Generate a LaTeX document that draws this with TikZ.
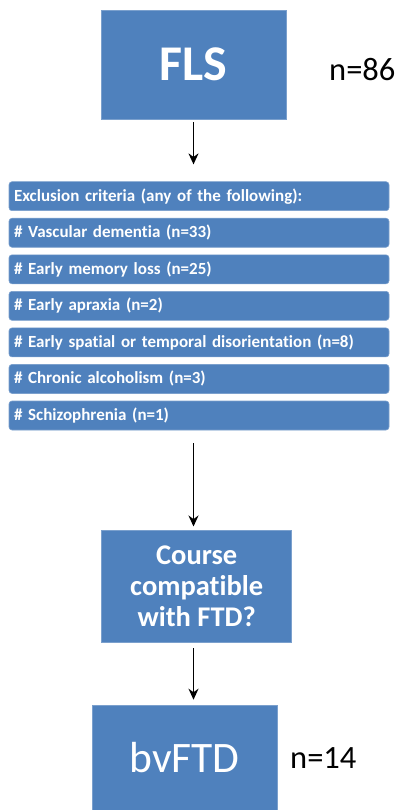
\documentclass[tikz,border=0pt]{standalone}
\usepackage{fontspec}
\setmainfont{Carlito}[Ligatures=NoCommon]
\usetikzlibrary{arrows.meta}
\definecolor{boxblue}{HTML}{4F81BD}
\begin{document}
\begin{tikzpicture}[x=1pt,y=-1pt]
        \tikzstyle{bigbox}=[rectangle,fill=boxblue,draw=boxblue!75!white,line width=0.6pt,text=white,inner sep=0pt]
        \tikzstyle{crit}=[rectangle,rounded corners=3pt,fill=boxblue,draw=boxblue!75!white,line width=0.6pt,text=white,font=\bfseries\fontsize{17}{20}\selectfont,minimum width=380pt,minimum height=29pt,text width=370pt,align=left,inner xsep=5pt,inner ysep=0pt]
        \tikzstyle{ncount}=[inner sep=0pt,font=\fontsize{32.5}{38}\selectfont]
        \tikzstyle{link}=[draw,line width=1.6pt,-{Stealth[length=11pt,width=10pt]}]
       \useasboundingbox (0,0) rectangle (397,810);
       \begin{scope}
         \node [bigbox,minimum width=185pt,minimum height=109pt,font=\bfseries\fontsize{50}{56}\selectfont] (fls) at (193.5,64.5) {FLS};
         \node [ncount,anchor=west] (n86) at (329,70) {n=86};
         \foreach \txt [count=\i] in {Exclusion criteria (any of the following):,
             \# Vascular dementia (n=33),
             \# Early memory loss (n=25),
             \# Early apraxia (n=2),
             \# Early spatial or temporal disorientation (n=8),
             \# Chronic alcoholism (n=3),
             \# Schizophrenia (n=1)}
           \node [crit] (crit\i) at (199,{196.2+(\i-1)*36.55}) {\txt};
         \node [bigbox,minimum width=190pt,minimum height=112pt,align=center,font=\bfseries\fontsize{28.5}{31}\selectfont] (course) at (196.7,585.8) {Course\\compatible\\with FTD?};
         \node [bigbox,minimum width=185pt,minimum height=105pt,font=\fontsize{43.5}{50}\selectfont] (bvftd) at (184.5,757.5) {bvFTD};
         \node [ncount,anchor=west] (n14) at (290,758) {n=14};
         \path[link,shorten <=3pt,shorten >=17pt] (fls.south) -- (fls.south |- crit1.north);
         \path[link,shorten <=13pt,shorten >=3pt] (crit7.south -| fls.south) -- (course.north -| fls.south);
         \path[link,shorten <=6pt,shorten >=5pt] (course.south -| fls.south) -- (bvftd.north -| fls.south);
        \end{scope}
      \end{tikzpicture}
\end{document}
